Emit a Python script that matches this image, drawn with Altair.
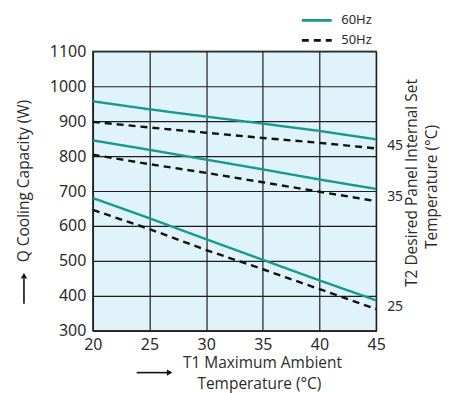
import altair as alt
import pandas as pd

# ---- data ----
t1 = [20, 25, 30, 35, 40, 45]
q_60_45 = [957, 934, 913, 893, 872, 848]
q_50_45 = [898, 882, 867, 852, 838, 822]
q_60_35 = [845, 818, 790, 762, 733, 706]
q_50_35 = [804, 777, 752, 725, 698, 671]
q_60_25 = [680, 622, 562, 503, 444, 387]
q_50_25 = [646, 591, 531, 476, 419, 362]

series = [
    ("60Hz", "45", q_60_45),
    ("50Hz", "45", q_50_45),
    ("60Hz", "35", q_60_35),
    ("50Hz", "35", q_50_35),
    ("60Hz", "25", q_60_25),
    ("50Hz", "25", q_50_25),
]

x_ticks = [20, 25, 30, 35, 40, 45]
y_ticks = [300, 400, 500, 600, 700, 800, 900, 1000, 1100]

TEAL = "#17998f"
TITLE_FONT = "Open Sans"
LABEL_FONT = "Noto Sans"
TXT = "#2b2b2b"

rows = []
for freq, t2, vals in series:
    for x, q in zip(t1, vals):
        rows.append({"T1": x, "Q": q, "freq": freq, "T2": t2, "key": freq + t2})
df = pd.DataFrame(rows)

# end labels for T2 (placed between the 60Hz and 50Hz line ends)
end = df[df["T1"] == 45].groupby("T2", as_index=False)["Q"].mean()
end["T1"] = 45

xs = alt.Scale(domain=[20, 45], nice=False, zero=False)
ys = alt.Scale(domain=[300, 1100], nice=False, zero=False)

xaxis = alt.Axis(values=x_ticks, title=None, grid=True, ticks=False, format="d",
                 labelPadding=6, labelFontSize=16, labelFont=LABEL_FONT,
                 labelColor=TXT, domainColor="#222", gridColor="#1e1e1e",
                 labelFlush=False, labelOverlap=False)
yaxis = alt.Axis(values=y_ticks, title=None, grid=True, ticks=False, format="d",
                 labelPadding=7, labelFontSize=16, labelFont=LABEL_FONT,
                 labelColor=TXT, domainColor="#222", gridColor="#1e1e1e",
                 labelFlush=False, labelOverlap=False)

leg = dict(title=None, orient="none", legendX=208, legendY=-40,
           symbolType="stroke", symbolSize=900, symbolStrokeWidth=2.6,
           labelFontSize=13, labelFont=LABEL_FONT, labelColor=TXT,
           clipHeight=18, rowPadding=2, labelOffset=8)

lines = alt.Chart(df).mark_line(strokeWidth=2.4).encode(
    x=alt.X("T1:Q", scale=xs, axis=xaxis),
    y=alt.Y("Q:Q", scale=ys, axis=yaxis),
    color=alt.Color("freq:N", scale=alt.Scale(domain=["60Hz", "50Hz"], range=[TEAL, "#111"]),
                    legend=alt.Legend(**leg)),
    strokeDash=alt.StrokeDash("freq:N", scale=alt.Scale(domain=["60Hz", "50Hz"], range=[[1, 0], [7, 5]]),
                              legend=alt.Legend(**leg)),
    detail="key:N",
)

endlabels = alt.Chart(end).mark_text(align="left", baseline="middle", dx=11, dy=2,
                                      fontSize=14, font=LABEL_FONT, color=TXT).encode(
    x=alt.X("T1:Q", scale=xs, axis=xaxis), y=alt.Y("Q:Q", scale=ys, axis=yaxis), text="T2:N")


def label(text, x, y, angle=0, size=15.5):
    return alt.Chart(pd.DataFrame({"t": [text]})).mark_text(
        align="center", baseline="middle", angle=angle, fontSize=size,
        font=TITLE_FONT, color=TXT).encode(x=alt.value(x), y=alt.value(y), text="t:N")


ytitle = label("Q Cooling Capacity (W)", -69, 130, angle=270)
xtitle1 = label("T1 Maximum Ambient", 170, 312)
xtitle2 = label("Temperature (°C)", 167, 333)
rtitle1 = label("T2 Desired Panel Internal Set", 320, 132, angle=270)
rtitle2 = label("Temperature (°C)", 340, 136, angle=270)

one = pd.DataFrame({"a": [0]})
yarrow = alt.Chart(one).mark_rule(color="#111", strokeWidth=1.6).encode(
    x=alt.value(-69), y=alt.value(253), y2=alt.value(228))
yhead = alt.Chart(one).mark_point(shape="triangle-up", filled=True, color="#111", size=40, opacity=1).encode(
    x=alt.value(-69), y=alt.value(225))
xarrow = alt.Chart(one).mark_rule(color="#111", strokeWidth=1.6).encode(
    x=alt.value(44), x2=alt.value(75), y=alt.value(322))
xhead = alt.Chart(one).mark_point(shape="triangle-right", filled=True, color="#111", size=40, opacity=1).encode(
    x=alt.value(77), y=alt.value(322))

chart = alt.layer(
    lines, endlabels, ytitle, xtitle1, xtitle2, rtitle1, rtitle2,
    yarrow, yhead, xarrow, xhead
).properties(
    width=284, height=280,
    autosize=alt.AutoSizeParams(type="none"),
    padding={"left": 85, "top": 43, "right": 72, "bottom": 63},
).configure_view(
    fill="#e0f3fb", stroke="#666", strokeWidth=1.5
).configure_axis(
    gridWidth=1.2, domainWidth=1.5, labelOverlap=False
)

chart.save("out.html", embed_options={"renderer": "svg", "actions": False})
